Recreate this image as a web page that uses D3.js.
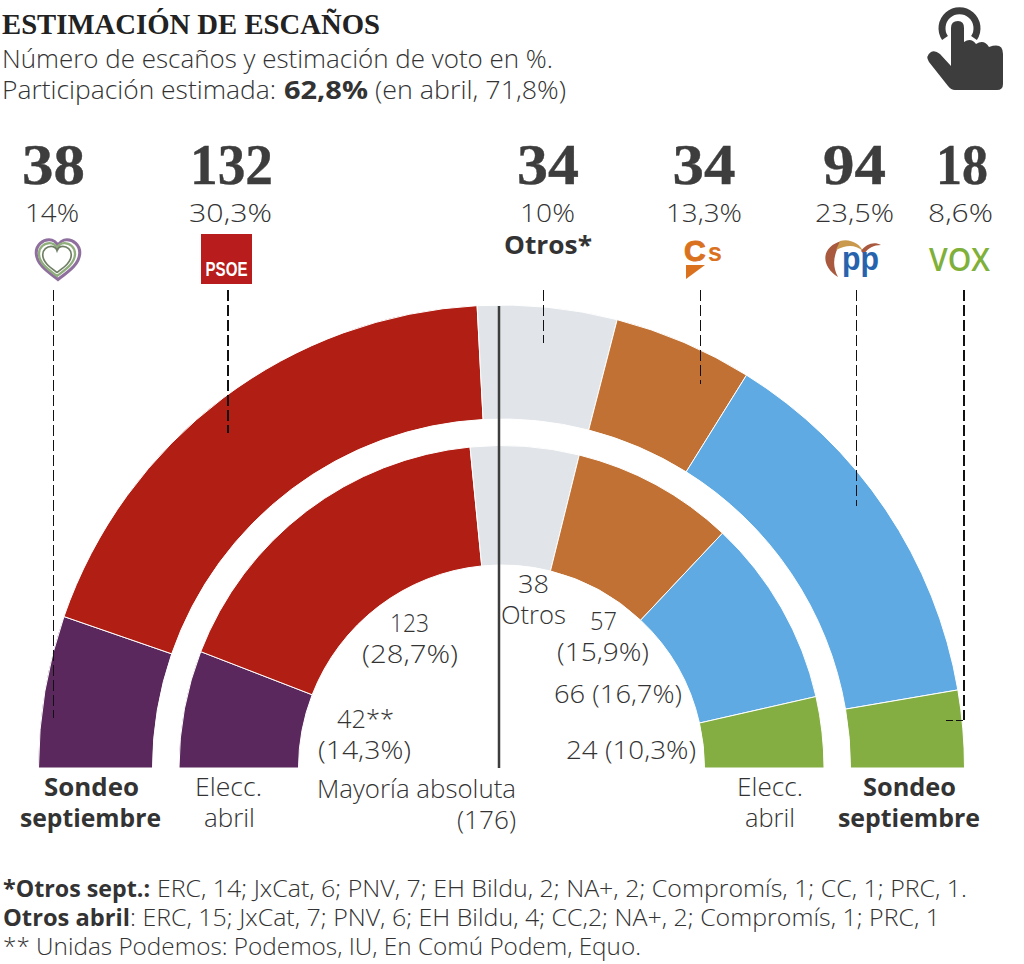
<!DOCTYPE html>
<html>
<head>
<meta charset="utf-8">
<script src="https://cdn.jsdelivr.net/npm/d3@7"></script>
<style>
  html, body { margin: 0; padding: 0; background: #fff; }
  text { font-family: "Open Sans", sans-serif; font-weight: 300; fill: #333; }
  .bold { font-weight: 700; }
  .num { font-family: "Liberation Serif", serif; font-weight: 700; font-size: 57px; fill: #3d3d3d; stroke: #3d3d3d; stroke-width: .4; }
</style>
</head>
<body>
<svg id="chart" width="1024" height="964"></svg>
<script>
// Parties, left to right round the hemicycle
var parties = ['Unidas Podemos', 'PSOE', 'Otros', 'Cs', 'PP', 'Vox'];
var colors = ['#5a285c', '#b11f14', '#e1e5e9', '#c17133', '#5faae2', '#84ae42'];

// Seats
var sondeoSeats = [38, 132, 34, 34, 94, 18];
var abrilSeats = [42, 123, 38, 57, 66, 24];

// Header labels
var sondeoSeatLabels = ['38', '132', '34', '34', '94', '18'];
var sondeoVoteLabels = ['14%', '30,3%', '10%', '13,3%', '23,5%', '8,6%'];

var svg = d3.select('#chart');

// Text squeezed to the width it has in print, the fonts here run narrower
function label(str, x, y, width, anchor, cls, size) {
  return svg.append('text').attr('x', x).attr('y', y)
    .attr('text-anchor', anchor || 'middle')
    .attr('class', cls || null)
    .attr('textLength', width).attr('lengthAdjust', 'spacingAndGlyphs')
    .style('font-size', (size || 25) + 'px').text(str);
}

/////////// Header ///////////

label('ESTIMACIÓN DE ESCAÑOS', 2, 34, 378, 'start')
  .style('font-family', '"Liberation Serif", serif').style('font-weight', 700)
  .style('font-size', '30px').style('fill', '#222');

label('Número de escaños y estimación de voto en %.', 2, 68, 551, 'start');
label('Participación estimada:', 2, 99, 274, 'start');
label('62,8%', 284, 99, 84, 'start', 'bold');
label('(en abril, 71,8%)', 375, 99, 191, 'start');

// Hand icon
svg.append('path')
  .attr('d', 'M945 38A17.5 17.5 0 1 1 974 38')
  .attr('fill', 'none').attr('stroke', '#3d3d3d').attr('stroke-width', 7);
svg.append('path')
  .attr('fill', '#3d3d3d')
  .attr('d', 'M951 28Q951 21 958 21Q964 21 964 28L964 42Q971 37 976 44Q984 39 989 47Q1003 42 1003 54' +
             'L1003 84Q1003 90 997 90L955 90Q951 90 948 86L929 62Q925 56 931 52Q935 50 940 54L951 66Z');

/////////// Hemicycle ///////////

var cx = 501.5, baseY = 768;
var angle = d3.scaleLinear().domain([0, 350]).range([-Math.PI / 2, Math.PI / 2]);

// the printed dividers sit about half a degree to the left of the exact seat share
var tilt = 0.45 * Math.PI / 180;
function divider(seat) {
  return (seat == 0 || seat == 350) ? angle(seat) : angle(seat) - tilt;
}

function drawRing(seats, inner, outer) {
  var cum = d3.cumsum(seats);
  var arc = d3.arc().innerRadius(inner).outerRadius(outer);
  svg.append('g').attr('transform', 'translate(' + cx + ',' + baseY + ')')
    .selectAll('path')
    .data(seats)
    .enter()
      .append('path')
      .attr('fill', function (d, i) { return colors[i]; })
      .attr('stroke', '#fff')
      .attr('stroke-width', 1)
      .attr('d', function (d, i) {
        return arc({ startAngle: divider(cum[i] - d), endAngle: divider(cum[i]) });
      });
}

drawRing(sondeoSeats, 349, 463);
drawRing(abrilSeats, 203, 322.5);

// Majority line
svg.append('line').attr('x1', 499).attr('x2', 499).attr('y1', 306).attr('y2', 768)
  .attr('stroke', '#3d3d3d').attr('stroke-width', 2.5);

/////////// Party columns ///////////

var columnX = [53.5, 231.5, 548, 704, 854.5, 962];
var numWidth = [63, 83, 62, 63, 63, 52];
var voteX = [52, 230.5, 547.5, 704, 854.5, 960.5];
var voteWidth = [54, 83, 55, 76, 79, 65];
var leaderX = [53.5, 227.5, 543.5, 700.5, 856.5, 963.5];
var leaderEnd = [718, 433, 343, 384, 506, 720];

parties.forEach(function (p, i) {
  svg.append('text').attr('class', 'num').attr('x', columnX[i]).attr('y', 184)
    .attr('text-anchor', 'middle')
    .attr('textLength', numWidth[i]).attr('lengthAdjust', 'spacingAndGlyphs')
    .text(sondeoSeatLabels[i]);
  label(sondeoVoteLabels[i], voteX[i], 222, voteWidth[i]);
  svg.append('line').attr('x1', leaderX[i]).attr('x2', leaderX[i]).attr('y1', 290).attr('y2', leaderEnd[i])
    .attr('stroke', '#111').attr('stroke-width', (i == 1 || i == 5) ? 2 : 1)
    .attr('stroke-dasharray', '11 4').attr('shape-rendering', 'crispEdges');
});

svg.append('line').attr('x1', 963).attr('x2', 946).attr('y1', 720.5).attr('y2', 720.5)
  .attr('stroke', '#111').attr('stroke-width', 1).attr('stroke-dasharray', '7 3')
  .attr('shape-rendering', 'crispEdges');

label('Otros*', 548, 254, 88, 'middle', 'bold');

// Podemos heart logo
var heart = 'M0 16C-8 10 -17 4 -17 -5C-17 -11 -12 -15 -7 -15C-4 -15 -1 -13 0 -10C1 -13 4 -15 7 -15C12 -15 17 -11 17 -5C17 4 8 10 0 16Z';
var heartLogo = svg.append('g').attr('transform', 'translate(58,259)').attr('fill', 'none');
heartLogo.append('path').attr('d', heart).attr('transform', 'scale(1.28)').attr('stroke', '#8f6f9e').attr('stroke-width', 2.4);
heartLogo.append('path').attr('d', heart).attr('transform', 'translate(-1,0) scale(1.06)').attr('stroke', '#8fae7c').attr('stroke-width', 2.2);
heartLogo.append('path').attr('d', heart).attr('transform', 'translate(-1,0) scale(.84)').attr('stroke', '#6f7d65').attr('stroke-width', 2);

// PSOE logo
svg.append('rect').attr('x', 201).attr('y', 234).attr('width', 51).attr('height', 50).attr('fill', '#b81c1c');
svg.append('text').attr('x', 226.5).attr('y', 276).attr('text-anchor', 'middle')
  .style('font-family', '"Liberation Sans", sans-serif').style('font-weight', 700)
  .style('font-size', '20px').style('fill', '#fff')
  .attr('textLength', 42).attr('lengthAdjust', 'spacingAndGlyphs').text('PSOE');

// Cs logo
svg.append('text').attr('x', 684).attr('y', 261)
  .style('font-family', '"Liberation Sans", sans-serif').style('font-weight', 700)
  .style('font-size', '30px').style('fill', '#d9711f').style('stroke', '#d9711f').style('stroke-width', 1).text('C');
svg.append('text').attr('x', 708).attr('y', 261)
  .style('font-family', '"Liberation Sans", sans-serif').style('font-weight', 700)
  .style('font-size', '25px').style('fill', '#d9711f').text('s');
svg.append('path').attr('d', 'M686 265L705 265L686 279Z').attr('fill', '#d9711f');

// PP logo
svg.append('path').attr('fill', '#a9593e')
  .attr('d', 'M838 277C820 266 821 246 842 241C836 250 830 262 838 277Z');
svg.append('path').attr('fill', '#c99a4e')
  .attr('d', 'M840 241C850 238 860 244 863 251C855 245 848 244 836 250Z');
svg.append('path').attr('fill', '#a9593e')
  .attr('d', 'M861 251C866 244 874 241 881 245C874 245 868 248 864 254Z');
svg.append('text').attr('x', 842).attr('y', 270)
  .style('font-family', '"Liberation Sans", sans-serif').style('font-weight', 700)
  .style('font-size', '33px').style('fill', '#2763ad')
  .attr('textLength', 37).attr('lengthAdjust', 'spacingAndGlyphs').text('pp');

// Vox logo
svg.append('text').attr('x', 929).attr('y', 271)
  .style('font-family', '"Open Sans", sans-serif').style('font-weight', 600)
  .style('font-size', '32px').style('fill', '#7fb03a')
  .attr('textLength', 61).attr('lengthAdjust', 'spacingAndGlyphs').text('VOX');

/////////// Ring labels ///////////

label('123', 409.5, 632, 39);
label('(28,7%)', 410, 663, 96);
label('42**', 365.5, 728, 57);
label('(14,3%)', 364.5, 759, 93);
label('38', 533.5, 593, 31);
label('Otros', 533.5, 624, 65);
label('57', 603.5, 630, 27);
label('(15,9%)', 603, 661, 92);
label('66 (16,7%)', 618, 703, 128);
label('24 (10,3%)', 631, 759, 130);
label('Mayoría absoluta', 516, 798, 199, 'end');
label('(176)', 516, 829, 59, 'end');
label('Sondeo', 91.5, 796, 95, 'middle', 'bold');
label('septiembre', 90.5, 827, 141, 'middle', 'bold');
label('Elecc.', 228.5, 796, 67);
label('abril', 229.5, 827, 51);
label('Elecc.', 770, 796, 66);
label('abril', 770, 827, 50);
label('Sondeo', 909.5, 796, 93, 'middle', 'bold');
label('septiembre', 909, 827, 142, 'middle', 'bold');

/////////// Footnotes ///////////

label('*Otros sept.:', 3, 897, 147, 'start', 'bold', 23);
label('ERC, 14; JxCat, 6; PNV, 7; EH Bildu, 2; NA+, 2; Compromís, 1; CC, 1; PRC, 1.', 157, 897, 810, 'start', null, 23);
label('Otros abril', 3, 926, 127, 'start', 'bold', 23);
label(': ERC, 15; JxCat, 7; PNV, 6; EH Bildu, 4; CC,2; NA+, 2; Compromís, 1; PRC, 1', 130, 926, 810, 'start', null, 23);
label('** Unidas Podemos: Podemos, IU, En Comú Podem, Equo.', 3, 955, 638, 'start', null, 23);
</script>
</body>
</html>
